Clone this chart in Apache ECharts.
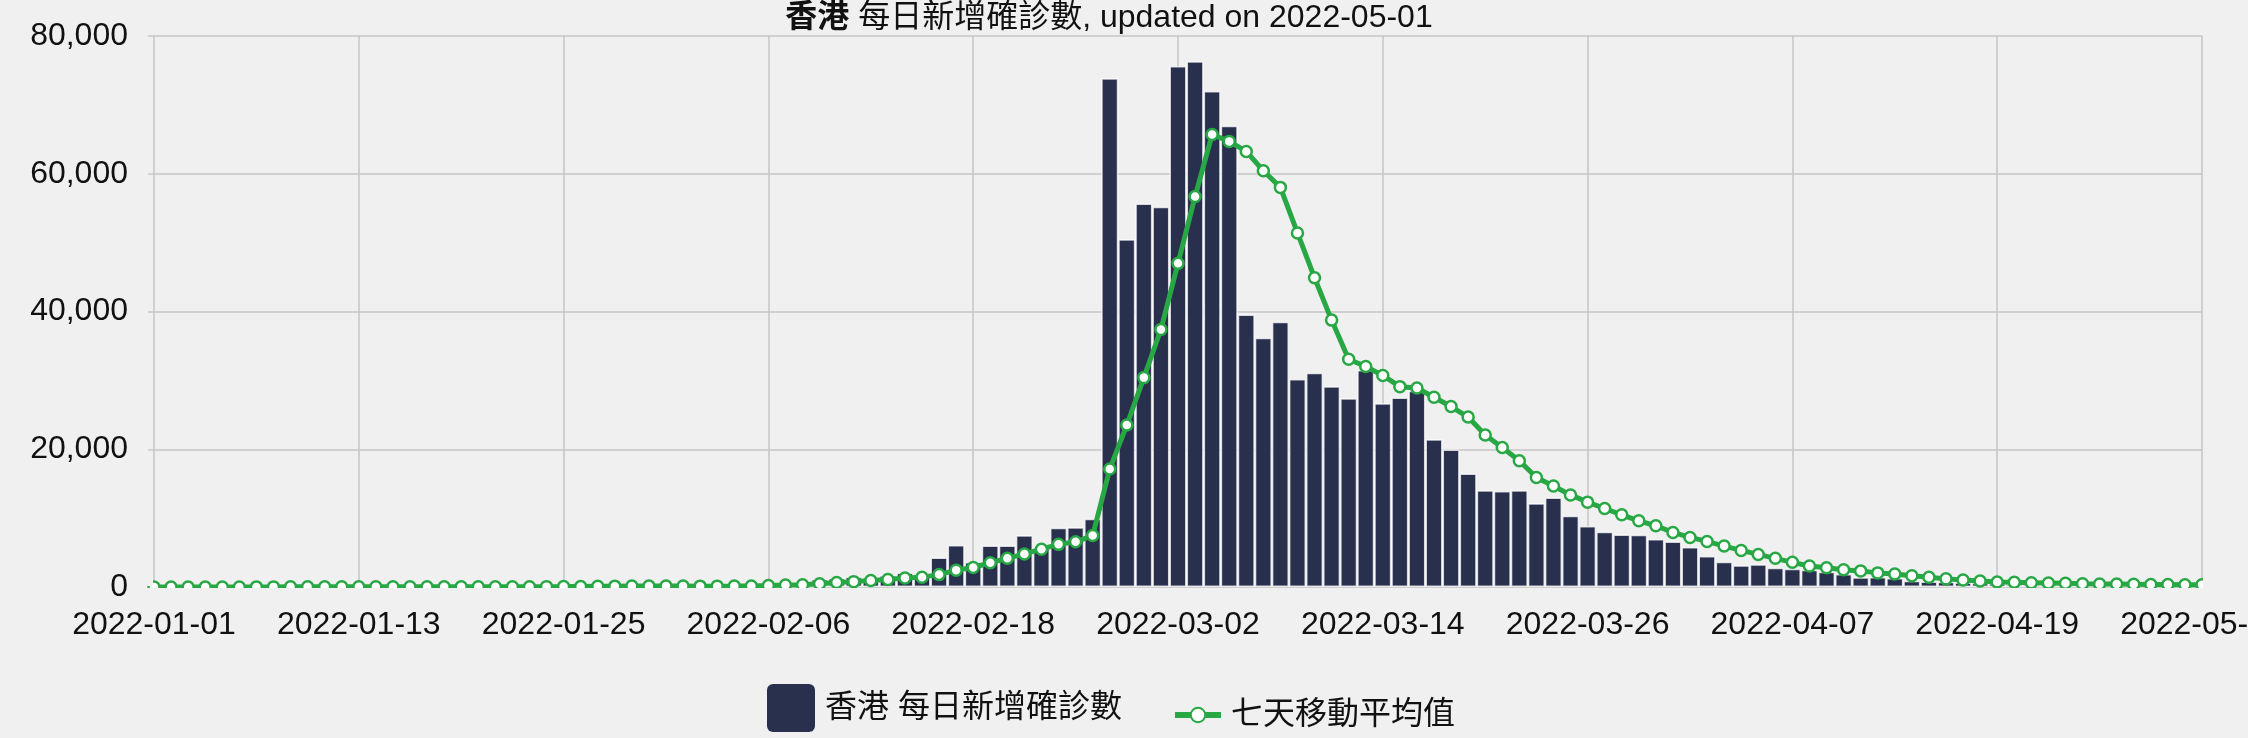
<!DOCTYPE html>
<html>
<head>
<meta charset="utf-8">
<script src="https://cdn.jsdelivr.net/npm/echarts@6/dist/echarts.min.js"></script>
<style>
html,body{margin:0;padding:0;background:#f0f0f0;}
#chart{width:2248px;height:738px;}
</style>
</head>
<body>
<div id="chart"></div>
<script>
// ---- data ----
const firstDay = [2022, 0, 1];   // 2022-01-01
const dayCount = 121;            // 2022-01-01 .. 2022-05-01
const titleRegion = '香港';
const titleRest = ' 每日新增確診數, updated on 2022-05-01';
const barName = '香港 每日新增確診數';
const lineName = '七天移動平均值';
const yTicks = [0, 20000, 40000, 60000, 80000];

const dailyCases = [
  5, 8, 11, 14, 13, 22, 30, 34, 36, 21,
  24, 20, 36, 31, 22, 17, 33, 20, 21, 17,
  20, 30, 140, 120, 90, 160, 170, 150, 164, 110,
  100, 70, 131, 142, 180, 350, 360, 620, 625, 1150,
  1300, 1500, 1350, 1700, 2070, 1620, 4267, 6080, 3627, 6027,
  6027, 7520, 5700, 8587, 8693, 9920, 73867, 50503, 55680, 55200,
  75627, 76320, 72000, 66987, 39570, 36190, 38500, 30194, 31108, 29136,
  27406, 31500, 26684, 27502, 28500, 21444, 19953, 16491, 14039, 13943,
  14039, 12164, 12982, 10360, 8841, 8019, 7633, 7585, 6957, 6618,
  5797, 4493, 3672, 3140, 3285, 2802, 2657, 2500, 2200, 1884,
  1400, 1450, 1304, 900, 800, 750, 650, 600, 550, 450,
  400, 350, 320, 300, 300, 280, 260, 300, 280, 260,
  250
];

const movingAvg = [
  3, 5, 7, 9, 10, 12, 15, 18, 22, 24,
  25, 24, 26, 25, 24, 24, 26, 25, 25, 24,
  22, 24, 40, 54, 66, 84, 103, 124, 142, 140,
  137, 130, 126, 127, 130, 159, 200, 280, 340, 480,
  650, 780, 930, 1100, 1300, 1430, 1800, 2450, 2830, 3520,
  4160, 4800, 5490, 6190, 6560, 7470, 17120, 23520, 30400, 37390,
  46990, 56690, 65700, 64700, 63240, 60440, 58020, 51400, 44900, 38750,
  33060, 32020, 30720, 29090, 28900, 27550, 26200, 24670, 22070, 20240,
  18320, 15910, 14660, 13370, 12320, 11400, 10480, 9610, 8890, 7920,
  7200, 6620, 5940, 5310, 4730, 4160, 3580, 3040, 2800, 2510,
  2340, 2050, 1900, 1620, 1420, 1180, 1015, 870, 740, 676,
  628, 580, 531, 483, 440, 430, 400, 370, 350, 330,
  310
];

// category labels (dates)
const dates = [];
for (let i = 0; i < dayCount; i++) {
  const d = new Date(Date.UTC(firstDay[0], firstDay[1], firstDay[2] + i));
  dates.push(d.toISOString().slice(0, 10));
}

// ---- style ----
const BG = '#f0f0f0';
const GRID = '#c6c6c6';
const BAR = '#28304d';
const GREEN = '#28a745';
const FONT = "'Liberation Sans', 'Noto Sans CJK TC', sans-serif";
const TXT = '#111111';

const chart = echarts.init(document.getElementById('chart'));
chart.setOption({
  backgroundColor: BG,
  animation: false,
  title: {
    text: '{b|' + titleRegion + '}' + titleRest,
    left: 1109,
    textAlign: 'center',
    top: 2,
    padding: 0,
    textStyle: {
      fontFamily: FONT, fontSize: 32, fontWeight: 'normal', color: TXT,
      rich: { b: { fontFamily: FONT, fontSize: 32, fontWeight: 'bold', color: TXT } }
    }
  },
  legend: [
    {
      data: [barName],
      left: 762, top: 679,
      itemWidth: 48, itemHeight: 48,
      icon: 'path://M6,0 H42 A6,6 0 0 1 48,6 V42 A6,6 0 0 1 42,48 H6 A6,6 0 0 1 0,42 V6 A6,6 0 0 1 6,0 Z',
      itemStyle: { borderWidth: 0 },
      textStyle: { fontFamily: FONT, fontSize: 32, color: TXT, padding: [0, 0, 0, 5] }
    },
    {
      data: [lineName],
      left: 1167, top: 694,
      itemWidth: 46, itemHeight: 18,
      lineStyle: { width: 6 },
      textStyle: { fontFamily: FONT, fontSize: 32, color: TXT, padding: [0, 0, 0, 5] }
    }
  ],
  grid: { left: 154, right: 46, top: 36, bottom: 151, containLabel: false, outerBoundsMode: 'none' },
  xAxis: {
    type: 'category',
    data: dates,
    boundaryGap: false,
    axisLine: { show: false },
    axisTick: { show: false },
    axisLabel: { interval: 11, fontFamily: FONT, fontSize: 32, color: TXT, margin: 22 },
    splitLine: { show: true, interval: 11, lineStyle: { color: GRID, width: 1.5 } }
  },
  yAxis: {
    type: 'value',
    min: yTicks[0],
    max: yTicks[yTicks.length - 1],
    interval: yTicks[1] - yTicks[0],
    axisLine: { show: false },
    axisTick: { show: true, length: 6, lineStyle: { color: GRID, width: 1.5 } },
    axisLabel: {
      fontFamily: FONT, fontSize: 32, color: TXT, margin: 26,
      formatter: v => v.toLocaleString('en-US')
    },
    splitLine: { show: true, lineStyle: { color: GRID, width: 1.5 } }
  },
  series: [
    {
      name: barName,
      type: 'bar',
      data: dailyCases,
      barWidth: '100%',
      itemStyle: { color: BAR, borderColor: 'rgba(255,255,255,0.75)', borderWidth: 1.5 },
      z: 2
    },
    {
      name: lineName,
      type: 'line',
      data: movingAvg,
      symbol: 'circle',
      symbolSize: 11,
      showAllSymbol: true,
      lineStyle: { color: GREEN, width: 5 },
      itemStyle: { color: '#ffffff', borderColor: GREEN, borderWidth: 2.5 },
      z: 3
    }
  ]
});

// clip the markers at the plot edges like the original (mask outside the plot area)
const y0 = chart.convertToPixel({ yAxisIndex: 0 }, yTicks[0]);
const xL = chart.convertToPixel({ xAxisIndex: 0 }, dates[0]);
const xR = chart.convertToPixel({ xAxisIndex: 0 }, dates[dates.length - 1]);
chart.setOption({
  graphic: [
    { type: 'rect', silent: true, z: 100,
      shape: { x: xL - 14, y: y0 + 1, width: xR - xL + 28, height: 14 }, style: { fill: BG } },
    { type: 'rect', silent: true, z: 100,
      shape: { x: xL - 14, y: y0 - 9, width: 13, height: 8 }, style: { fill: BG } },
    { type: 'rect', silent: true, z: 100,
      shape: { x: xR + 1, y: y0 - 9, width: 13, height: 10 }, style: { fill: BG } }
  ]
});
</script>
</body>
</html>
